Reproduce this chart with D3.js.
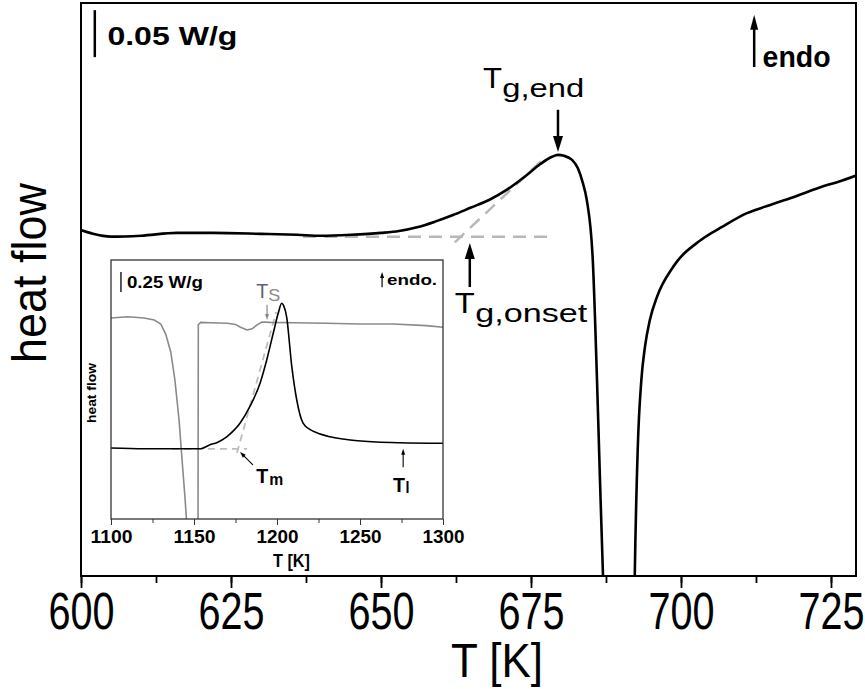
<!DOCTYPE html>
<meta charset="utf-8">
<title>DSC heat flow</title>
<script src="https://d3js.org/d3.v7.min.js"></script>
<style>
    body { margin: 0; background: #fff; }
    text { font-family: "Liberation Sans", Arial, sans-serif; }
</style>
<body>
<div id="chart"></div>
<script>
    // main DSC trace (heating), heat flow in W/g relative to the glass baseline
    var heatT1 = [600, 602, 605, 610, 616, 622, 630, 636, 640, 645, 650, 653, 656, 659, 662, 665, 668, 671, 674, 676.5, 678.5, 679.5, 680.5, 681.8, 682.8, 683.6, 684.3, 685.3, 686, 686.5, 687, 687.6];
    var heatQ1 = [0.002, -0.002, -0.005, -0.004, -0.001, -0.001, -0.002, -0.003, -0.004, -0.003, -0.001, 0.001, 0.005, 0.011, 0.018, 0.026, 0.034, 0.045, 0.059, 0.072, 0.080, 0.082, 0.081, 0.077, 0.068, 0.053, 0.034, -0.030, -0.157, -0.264, -0.365, -0.46];
    var heatT2 = [692.1, 692.3, 692.8, 693.4, 694, 694.8, 696, 698.7, 703.2, 707, 711, 715, 718.7, 723, 727, 729.2];
    var heatQ2 = [-0.46, -0.365, -0.229, -0.157, -0.122, -0.094, -0.069, -0.037, -0.009, 0.006, 0.020, 0.029, 0.037, 0.047, 0.055, 0.060];

    // tangent construction for Tg
    var baseT = [637, 677.7], baseQ = [-0.005, -0.005];
    var slopeT = [662.3, 677.3], slopeQ = [-0.011, 0.079];

    var mainTicks = [600, 625, 650, 675, 700, 725];

    // inset: melting (heating, black) and solidification (cooling, grey)
    var meltT = [1100, 1120, 1140, 1154, 1159.6, 1164, 1169.7, 1174, 1177.7, 1183.7, 1189.8, 1193.8, 1197.8, 1200.8, 1202.8, 1204, 1205.8, 1208.9, 1211.9, 1215.7, 1220, 1224, 1232, 1244, 1260, 1274, 1300];
    var meltQ = [0, -0.01, -0.01, -0.01, 0.04, 0.07, 0.14, 0.22, 0.31, 0.52, 0.81, 1.1, 1.44, 1.69, 1.81, 1.78, 1.64, 1.02, 0.6, 0.31, 0.23, 0.19, 0.14, 0.10, 0.075, 0.066, 0.06];
    var coolT1 = [1100, 1110, 1120, 1126, 1130, 1133, 1136, 1138.5, 1141, 1143, 1144.5, 1145.5, 1147];
    var coolQ1 = [1.625, 1.64, 1.625, 1.6, 1.55, 1.42, 1.2, 0.85, 0.35, -0.2, -0.6, -0.9, -1.3];
    var coolT2 = [1152.4, 1152.6, 1154, 1160, 1170, 1175, 1178, 1182, 1185, 1188, 1191, 1196, 1210, 1230, 1250, 1270, 1290, 1300];
    var coolQ2 = [-1.3, 1.54, 1.57, 1.565, 1.56, 1.545, 1.51, 1.475, 1.49, 1.54, 1.575, 1.57, 1.565, 1.56, 1.55, 1.55, 1.53, 1.51];

    var insBaseT = [1136.7, 1182], insBaseQ = [-0.01, -0.01];
    var insSlopeT = [1175.9, 1199.5], insSlopeQ = [-0.06, 1.7];

    var insetTicks = [1100, 1150, 1200, 1250, 1300];

    var W = 865, H = 689;
    var svg = d3.select("#chart").append("svg").attr("width", W).attr("height", H);

    var x = d3.scaleLinear().domain([600, 729.17]).range([81, 856]);
    var y = d3.scaleLinear().domain([-0.366, 0.2436]).range([576, 3]);

    var xi = d3.scaleLinear().domain([1100, 1300]).range([111, 443]);
    var yi = d3.scaleLinear().domain([-0.8875, 2.35]).range([519, 260]);

    function pts(ts, qs) { return ts.map(function (t, i) { return [t, qs[i]]; }); }

    svg.append("defs").append("clipPath").attr("id", "mainclip")
        .append("rect").attr("x", 81).attr("y", 3).attr("width", 775).attr("height", 573);
    svg.select("defs").append("clipPath").attr("id", "insclip")
        .append("rect").attr("x", 111).attr("y", 260).attr("width", 332).attr("height", 259);

    function arrow(g, x1, y1, x2, y2, len, wid, sw, col) {
        var dx = x2 - x1, dy = y2 - y1, L = Math.sqrt(dx * dx + dy * dy);
        var ux = dx / L, uy = dy / L;
        var bx = x2 - ux * len, by = y2 - uy * len;
        g.append("line").attr("x1", x1).attr("y1", y1).attr("x2", bx + ux * 2).attr("y2", by + uy * 2)
            .attr("stroke", col).attr("stroke-width", sw);
        g.append("path")
            .attr("d", "M" + x2 + "," + y2 + "L" + (bx - uy * wid / 2) + "," + (by + ux * wid / 2) +
                "L" + (bx + uy * wid / 2) + "," + (by - ux * wid / 2) + "Z")
            .attr("fill", col);
    }

    function label(g, str, px, py, size, weight, len, col) {
        var t = g.append("text").attr("x", px).attr("y", py)
            .attr("font-size", size).attr("font-weight", weight || "normal")
            .attr("fill", col || "#000").text(str);
        if (len) t.attr("textLength", len).attr("lengthAdjust", "spacingAndGlyphs");
        return t;
    }

    // ---- main plot ----
    var line = d3.line().x(function (d) { return x(d[0]); }).y(function (d) { return y(d[1]); })
        .curve(d3.curveMonotoneX);

    var plot = svg.append("g").attr("clip-path", "url(#mainclip)");
    [[baseT, baseQ], [slopeT, slopeQ]].forEach(function (s) {
        plot.append("path").attr("d", d3.line().x(function (d) { return x(d[0]); }).y(function (d) { return y(d[1]); })(pts(s[0], s[1])))
            .attr("fill", "none").attr("stroke", "#b8b8b8").attr("stroke-width", 2.5)
            .attr("stroke-dasharray", "13,8");
    });
    [[heatT1, heatQ1], [heatT2, heatQ2]].forEach(function (s) {
        plot.append("path").attr("d", line(pts(s[0], s[1])))
            .attr("fill", "none").attr("stroke", "#000").attr("stroke-width", 2.6);
    });

    // minor + major ticks
    var minor = d3.range(600, 730, 12.5);
    svg.append("g").attr("transform", "translate(0,576)")
        .call(d3.axisBottom(x).tickValues(minor).tickSize(7).tickFormat(""))
        .call(function (g) { g.select(".domain").remove(); g.selectAll("line").attr("stroke-width", 1.8); });
    var xa = svg.append("g").attr("transform", "translate(0,576)")
        .call(d3.axisBottom(x).tickValues(mainTicks).tickSize(12).tickPadding(5).tickFormat(d3.format("d")));
    xa.select(".domain").remove();
    xa.selectAll("line").attr("stroke-width", 1.8);
    xa.selectAll("text").attr("font-size", 51).attr("font-family", "Liberation Sans, Arial, sans-serif")
        .attr("fill", "#000").attr("textLength", 66).attr("lengthAdjust", "spacingAndGlyphs");

    svg.append("rect").attr("x", 81).attr("y", 3).attr("width", 775).attr("height", 573)
        .attr("fill", "none").attr("stroke", "#000").attr("stroke-width", 2);

    label(svg, "T [K]", 451, 677, 49, "normal", 92);
    label(svg, "heat flow", 0, 0, 48, "normal", 180)
        .attr("text-anchor", "middle").attr("transform", "translate(46,273) rotate(-90)");

    // annotations (positions in data units)
    var ann = svg.append("g");
    ann.append("line").attr("x1", x(602.3)).attr("x2", x(602.3)).attr("y1", y(0.236)).attr("y2", y(0.186))
        .attr("stroke", "#000").attr("stroke-width", 2.5);
    label(ann, "0.05 W/g", x(604.4), y(0.199), 25, "bold", 130);

    arrow(ann, x(712.2), y(0.1755), x(712.2), y(0.231), 15, 8, 2.5, "#000");
    label(ann, "endo", x(713.6), y(0.1755), 30, "bold", 68);

    arrow(ann, x(679.5), y(0.130), x(679.5), y(0.085), 16, 10, 2.5, "#000");
    label(ann, "T", x(667), y(0.153), 29, "normal", 19);
    label(ann, "g,end", x(670.2), y(0.1436), 25, "normal", 82);

    arrow(ann, x(664.8), y(-0.0585), x(664.8), y(-0.0117), 16, 10, 2.5, "#000");
    label(ann, "T", x(662.3), y(-0.0862), 29, "normal", 20);
    label(ann, "g,onset", x(665.7), y(-0.0957), 25, "normal", 112);

    // ---- inset ----
    var ins = svg.append("g");
    ins.append("rect").attr("x", 111).attr("y", 260).attr("width", 332).attr("height", 259).attr("fill", "#fff");

    var iline = d3.line().x(function (d) { return xi(d[0]); }).y(function (d) { return yi(d[1]); });
    var ip = ins.append("g").attr("clip-path", "url(#insclip)");
    [[insBaseT, insBaseQ], [insSlopeT, insSlopeQ]].forEach(function (s) {
        ip.append("path").attr("d", iline(pts(s[0], s[1])))
            .attr("fill", "none").attr("stroke", "#bdbdbd").attr("stroke-width", 1.8)
            .attr("stroke-dasharray", "7,5");
    });
    [[coolT1, coolQ1], [coolT2, coolQ2]].forEach(function (s) {
        ip.append("path").attr("d", iline(pts(s[0], s[1])))
            .attr("fill", "none").attr("stroke", "#8a8a8a").attr("stroke-width", 1.6);
    });
    ip.append("path").attr("d", iline.curve(d3.curveMonotoneX)(pts(meltT, meltQ)))
        .attr("fill", "none").attr("stroke", "#000").attr("stroke-width", 1.6);

    var iminor = d3.range(1100, 1301, 25);
    ins.append("g").attr("transform", "translate(0,519)")
        .call(d3.axisBottom(xi).tickValues(iminor).tickSize(4).tickFormat(""))
        .call(function (g) { g.select(".domain").remove(); g.selectAll("line").attr("stroke", "#333"); });
    var ia = ins.append("g").attr("transform", "translate(0,519)")
        .call(d3.axisBottom(xi).tickValues(insetTicks).tickSize(6).tickPadding(5).tickFormat(d3.format("d")));
    ia.select(".domain").remove();
    ia.selectAll("line").attr("stroke", "#333");
    ia.selectAll("text").attr("font-size", 18).attr("font-weight", "bold")
        .attr("font-family", "Liberation Sans, Arial, sans-serif").attr("fill", "#000")
        .attr("textLength", 42).attr("lengthAdjust", "spacingAndGlyphs");

    ins.append("rect").attr("x", 111).attr("y", 260).attr("width", 332).attr("height", 259)
        .attr("fill", "none").attr("stroke", "#333").attr("stroke-width", 1.3);

    label(ins, "T [K]", 273, 567, 18, "bold", 37);
    label(ins, "heat flow", 0, 0, 12, "bold", 60)
        .attr("text-anchor", "middle").attr("transform", "translate(96,393) rotate(-90)");

    ins.append("line").attr("x1", xi(1106)).attr("x2", xi(1106)).attr("y1", yi(2.2)).attr("y2", yi(1.95))
        .attr("stroke", "#000").attr("stroke-width", 1.3);
    label(ins, "0.25 W/g", xi(1109.6), yi(2.0), 17, "bold", 76);

    arrow(ins, xi(1263.3), yi(2.01), xi(1263.3), yi(2.2), 6, 4, 1.2, "#000");
    label(ins, "endo.", xi(1266.3), yi(2.04), 15, "bold", 50);

    arrow(ins, xi(1194), yi(1.79), xi(1194), yi(1.6), 6, 4, 1.2, "#888");
    label(ins, "T", xi(1187.5), yi(1.875), 21, "normal", 12, "#5c6272");
    label(ins, "S", xi(1194.7), yi(1.8375), 17, "normal", 12, "#8a8a8a");

    arrow(ins, xi(1185.5), yi(-0.21), xi(1177.7), yi(-0.05), 6, 4, 1.1, "#000");
    label(ins, "T", xi(1187.5), yi(-0.4375), 21, "bold", 12);
    label(ins, "m", xi(1195.3), yi(-0.4625), 17, "bold", 14);

    arrow(ins, xi(1276), yi(-0.24), xi(1276), yi(-0.01), 6, 4, 1.1, "#000");
    label(ins, "T", xi(1269.9), yi(-0.55), 20, "bold", 12);
    label(ins, "l", xi(1277.4), yi(-0.5625), 16, "bold", 4);
</script>
</body>
